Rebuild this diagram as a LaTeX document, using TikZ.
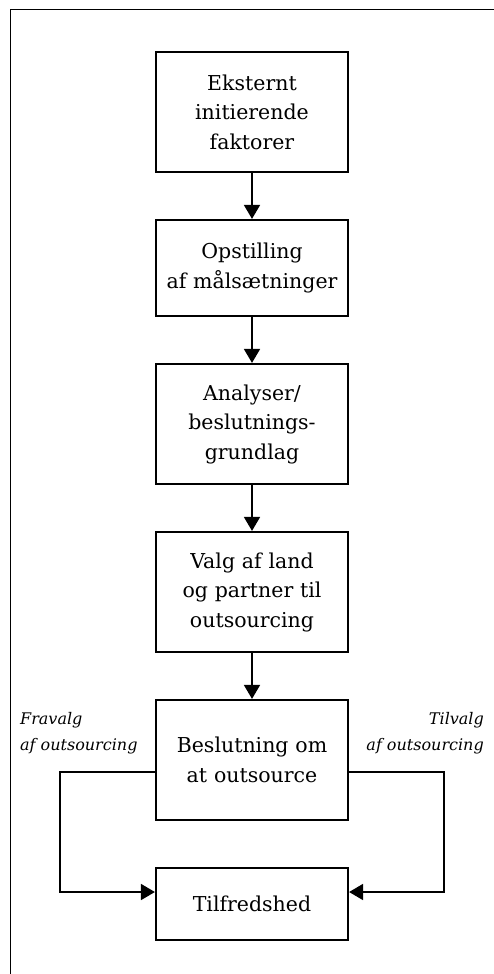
\documentclass[tikz,border=0pt]{standalone}
\usepackage{fontspec}
\setmainfont{DejaVu Serif}
\usetikzlibrary{arrows.meta}
\begin{document}
\begin{tikzpicture}[x=1pt,y=-1pt,
  stepbox/.style={draw,line width=2.2pt,minimum width=192pt,text width=184pt,align=center,
    inner sep=0pt,font=\fontsize{20.5}{29.5}\selectfont},
  arr/.style={line width=1.8pt,-{Triangle[length=14pt,width=16pt]}},
  lbl/.style={font=\fontsize{16}{26.5}\selectfont\itshape,inner sep=0pt}]
\useasboundingbox (0,0) rectangle (494,974);
\draw[line width=1pt] (10,974) -- (10,10) -- (494,10);
\node[stepbox,minimum height=120pt] (b1) at (252,112) {Eksternt\\initierende\\faktorer};
\node[stepbox,minimum height=96pt] (b2) at (252,268) {Opstilling\\af målsætninger};
\node[stepbox,minimum height=120pt] (b3) at (252,424) {Analyser/\\beslutnings-\\grundlag};
\node[stepbox,minimum height=120pt] (b4) at (252,592) {Valg af land\\og partner til\\outsourcing};
\node[stepbox,minimum height=120pt] (b5) at (252,760) {Beslutning om\\at outsource};
\node[stepbox,minimum height=72pt] (b6) at (252,904) {Tilfredshed};
\node[lbl,anchor=north west,align=left] (fra) at (20,712) {Fravalg\\af outsourcing};
\node[lbl,anchor=north east,align=right] (til) at (484,712) {Tilvalg\\af outsourcing};
\draw[arr] (b1) -- (b2);
\draw[arr] (b2) -- (b3);
\draw[arr] (b3) -- (b4);
\draw[arr] (b4) -- (b5);
\coordinate (lc) at (60,892);
\coordinate (rc) at (444,892);
\draw[arr] ([yshift=-12pt]b5.west) -| (lc) -- ([yshift=12pt]b6.west);
\draw[arr] ([yshift=-12pt]b5.east) -| (rc) -- ([yshift=12pt]b6.east);
\end{tikzpicture}
\end{document}
